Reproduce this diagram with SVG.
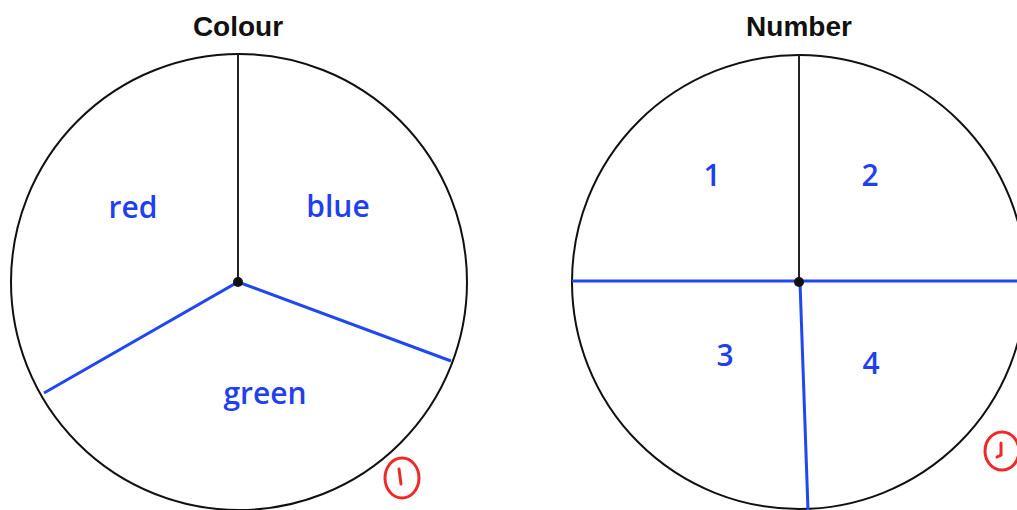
<svg xmlns="http://www.w3.org/2000/svg" width="1017" height="510" viewBox="0 0 1017 510">
<style>
.title{font-family:"Liberation Sans",Arial,sans-serif;font-weight:bold;font-size:28px;fill:#111;text-anchor:middle}
.hand{font-family:"Open Sans","Liberation Sans",sans-serif;font-size:30px;font-weight:600;fill:#1f3ff0;text-anchor:middle}
.circ{fill:none;stroke:#111;stroke-width:2}
.black{stroke:#222;stroke-width:2}
.blue{stroke:#1f48f0;stroke-width:3;fill:none}
.mark{fill:none;stroke:#f02828;stroke-width:3;stroke-linecap:round}
</style>
<rect width="1017" height="510" fill="#fff"/>
<g id="colour-spinner">
<text class="title" x="238" y="36">Colour</text>
<circle class="circ" cx="239" cy="282" r="228"/>
<text class="hand" x="133" y="218">red</text>
<text class="hand" x="338" y="217">blue</text>
<text class="hand" x="265" y="404">green</text>
</g>
<g id="number-spinner">
<text class="title" x="799" y="36">Number</text>
<circle class="circ" cx="799" cy="282" r="227"/>
<text class="hand" x="712" y="186">1</text>
<text class="hand" x="870" y="186">2</text>
<text class="hand" x="725" y="366">3</text>
<text class="hand" x="871" y="374">4</text>
</g>
<g id="connectors">
<line class="black" x1="238" y1="54" x2="238" y2="282"/>
<polyline class="blue" points="44,393 238,282 451,361"/>
<circle cx="238" cy="282" r="5" fill="#111"/>
<line class="black" x1="799" y1="55" x2="799" y2="282"/>
<line class="blue" x1="572" y1="281" x2="1017" y2="281"/>
<line class="blue" x1="800" y1="282" x2="808" y2="510"/>
<circle cx="799" cy="282" r="5" fill="#111"/>
</g>
<g id="marks">
<ellipse class="mark" cx="402" cy="478" rx="17" ry="20"/>
<path class="mark" d="M399 469 L401 484"/>
<ellipse class="mark" cx="1002" cy="451" rx="17" ry="19"/>
<path class="mark" d="M1001 443 L1001 455 L997 457"/>
</g>
</svg>
